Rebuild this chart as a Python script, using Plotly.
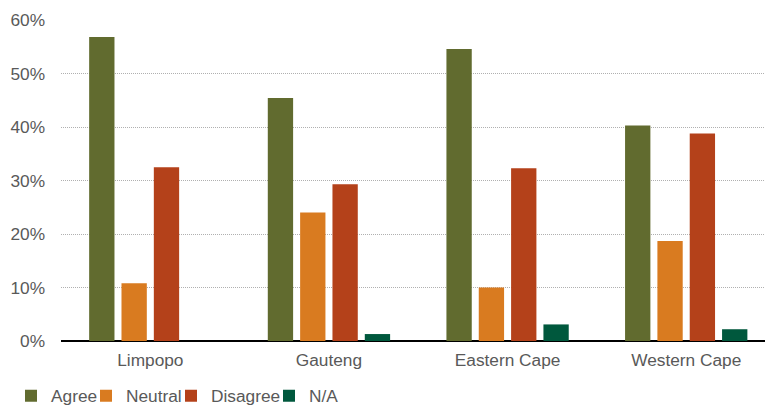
import plotly.graph_objects as go

categories = ["Limpopo", "Gauteng", "Eastern Cape", "Western Cape"]
agree = [0.568, 0.454, 0.546, 0.403]
neutral = [0.108, 0.240, 0.100, 0.187]
disagree = [0.325, 0.293, 0.323, 0.388]
na = [0.0, 0.013, 0.031, 0.022]

series = [
    ("Agree", agree, "#616B2F"),
    ("Neutral", neutral, "#D97B20"),
    ("Disagree", disagree, "#B4411A"),
    ("N/A", na, "#00583D"),
]

legend_ids = ["legend", "legend2", "legend3", "legend4"]
legend_left_px = [11, 86, 171, 269]

fig = go.Figure()
for (name, vals, color), lid in zip(series, legend_ids):
    fig.add_trace(go.Bar(x=categories, y=vals, name=name, legend=lid,
                         marker=dict(color=color, line=dict(width=0))))

font = "Liberation Sans, Arial, sans-serif"
fs = 17.3
layout_legends = {}
for lid, px in zip(legend_ids, legend_left_px):
    layout_legends[lid] = dict(orientation="h", xref="container", yref="container",
                               x=px / 765, xanchor="left", y=1 - 396 / 405, yanchor="middle",
                               font=dict(size=fs, color="#595959", family=font),
                               itemwidth=30, bgcolor="rgba(0,0,0,0)")

fig.update_layout(
    width=765, height=405,
    margin=dict(l=61, r=0, t=20, b=64, autoexpand=False),
    paper_bgcolor="white", plot_bgcolor="white",
    barmode="group", bargap=0.276, bargroupgap=0.217,
    font=dict(family=font, size=fs, color="#595959"),
    showlegend=True,
    xaxis=dict(range=[-0.5, 3.441], showgrid=False, showline=False, ticks="",
               tickfont=dict(size=fs, color="#595959"), ticklabelstandoff=7,
               automargin=False),
    yaxis=dict(range=[0, 0.6], tickformat=".0%", dtick=0.1, showgrid=True,
               gridcolor="#B0B0B0", griddash="1px,1px", gridwidth=1,
               zeroline=True, zerolinecolor="#000000", zerolinewidth=2,
               showline=False, ticks="", ticklabelstandoff=15,
               tickfont=dict(size=fs, color="#595959"), automargin=False),
    **layout_legends,
)
fig.write_html("out.html", config={"displayModeBar": False},
               post_script="document.body.style.margin='0';document.body.style.overflow='hidden';")
